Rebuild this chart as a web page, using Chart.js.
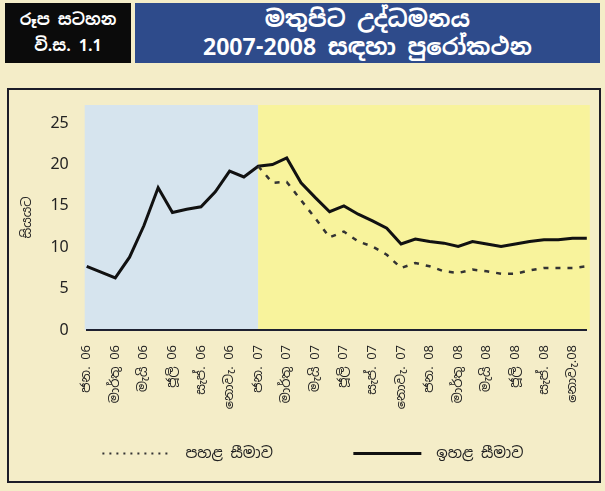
<!DOCTYPE html>
<html lang="si">
  <head>
    <meta charset="UTF-8" />
    <title>මතුපිට උද්ධමනය</title>
    <script src="https://cdn.jsdelivr.net/npm/chart.js"></script>
    <style>
      body {
        margin: 0;
        width: 605px;
        height: 491px;
        background: #f4edc8;
        position: relative;
        overflow: hidden;
        font-family: "Noto Sans Sinhala", "Noto Sans", sans-serif;
      }
      .tag,
      .heading {
        position: absolute;
        top: 3px;
        height: 60px;
        color: #fff;
        display: flex;
        flex-direction: column;
        justify-content: center;
        align-items: center;
        font-weight: bold;
      }
      .tag {
        left: 5px;
        width: 126px;
        background: #0b0b0b;
        font-size: 16px;
        line-height: 26px;
      }
      .heading {
        left: 135px;
        width: 465px;
        background: #2e4b8b;
        font-size: 23px;
        line-height: 28px;
      }
      .frame {
        position: absolute;
        left: 7px;
        top: 88px;
        width: 594px;
        height: 395px;
        border: 2px solid #1c1c28;
        box-sizing: border-box;
      }
      #chart {
        position: absolute;
        left: 9px;
        top: 90px;
      }
    </style>
  </head>
  <body>
    <div class="tag"><div>රූප සටහන</div><div>වි.ස. 1.1</div></div>
    <div class="heading"><div>මතුපිට උද්ධමනය</div><div>2007-2008 සඳහා පුරෝකථන</div></div>
    <div class="frame"></div>
    <canvas id="chart" width="590" height="391"></canvas>

    <script>
      // මාසික දත්ත (2006 ජන. - 2008 දෙසැ.)
      const months = [
        "2006-01", "2006-02", "2006-03", "2006-04", "2006-05", "2006-06",
        "2006-07", "2006-08", "2006-09", "2006-10", "2006-11", "2006-12",
        "2007-01", "2007-02", "2007-03", "2007-04", "2007-05", "2007-06",
        "2007-07", "2007-08", "2007-09", "2007-10", "2007-11", "2007-12",
        "2008-01", "2008-02", "2008-03", "2008-04", "2008-05", "2008-06",
        "2008-07", "2008-08", "2008-09", "2008-10", "2008-11", "2008-12",
      ];
      const tickLabels = [
        "ජන. 06", "මාර්තු 06", "මැයි 06", "ජූලි 06", "සැප්. 06", "නොවැ. 06",
        "ජන. 07", "මාර්තු 07", "මැයි 07", "ජූලි 07", "සැප්. 07", "නොවැ. 07",
        "ජන. 08", "මාර්තු 08", "මැයි 08", "ජූලි 08", "සැප්. 08", "නොවැ.08",
      ];
      const upperBound = [
        7.7, 7.0, 6.3, 8.8, 12.6, 17.2, 14.2, 14.6, 14.9, 16.7, 19.2, 18.5,
        19.8, 20.0, 20.8, 17.8, 16.0, 14.3, 15.0, 14.0, 13.2, 12.3, 10.4, 11.0,
        10.7, 10.5, 10.1, 10.7, 10.4, 10.1, 10.4, 10.7, 10.9, 10.9, 11.1, 11.1,
      ];
      const lowerBound = [
        null, null, null, null, null, null, null, null, null, null, null, null,
        19.8, 17.8, 17.9, 15.7, 13.5, 11.2, 11.9, 10.7, 10.1, 9.1, 7.5, 8.1,
        7.7, 7.1, 6.9, 7.3, 7.1, 6.8, 6.8, 7.2, 7.5, 7.5, 7.5, 7.7,
      ];
      const forecastStart = months.indexOf("2007-01");

      // පසුබිම් වර්ණ (සත්‍ය / පුරෝකථන)
      const bands = {
        id: "bands",
        beforeDraw(chart) {
          const { ctx, chartArea: a, scales } = chart;
          const split = scales.x.getPixelForValue(forecastStart);
          ctx.save();
          ctx.fillStyle = "#d6e4ee";
          ctx.fillRect(a.left - 2, a.top, split - a.left + 2, a.bottom - a.top);
          ctx.fillStyle = "#f8f39c";
          ctx.fillRect(split, a.top, a.right + 3 - split, a.bottom - a.top);
          ctx.restore();
        },
      };

      const legendShift = {
        id: "legendShift",
        afterLayout(chart) {
          chart.legend.left += 10;
          chart.legend.right += 10;
        },
      };

      const sinhala = "'Noto Sans Sinhala', 'Noto Sans', sans-serif";

      new Chart(document.getElementById("chart"), {
        type: "line",
        data: {
          labels: months,
          datasets: [
            {
              label: "පහළ සීමාව",
              data: lowerBound,
              borderColor: "#333",
              borderWidth: 2.5,
              borderDash: [5, 7],
              pointRadius: 0,
              fill: false,
            },
            {
              label: "ඉහළ සීමාව",
              data: upperBound,
              borderColor: "#111",
              borderWidth: 3,
              pointRadius: 0,
              fill: false,
            },
          ],
        },
        options: {
          responsive: false,
          animation: false,
          layout: { padding: { left: 10, right: 12.2, top: 15, bottom: 10 } },
          scales: {
            x: {
              offset: false,
              grid: { display: false, drawTicks: false },
              border: { display: true, color: "#1d2030", width: 2 },
              ticks: {
                autoSkip: false,
                minRotation: 90,
                maxRotation: 90,
                padding: 15,
                color: "#222",
                font: { family: sinhala, size: 13 },
                callback: (v, i) => (i % 2 === 0 ? tickLabels[i / 2] : ""),
              },
              afterFit: (s) => {
                s.height = 106;
                s.paddingLeft = 0;
                s.paddingRight = 0;
              },
            },
            y: {
              min: 0,
              max: 27.2,
              grid: { display: false, drawTicks: false },
              border: { display: false },
              ticks: {
                stepSize: 5,
                includeBounds: false,
                padding: 18,
                color: "#222",
                font: { family: "'Noto Sans', sans-serif", size: 16 },
              },
              title: {
                display: true,
                text: "සියයට",
                color: "#222",
                font: { family: sinhala, size: 13 },
                padding: { top: 1, bottom: 4 },
              },
              afterFit: (s) => {
                s.width = 67.7;
                s.paddingTop = 0;
                s.paddingBottom = 0;
              },
            },
          },
          plugins: {
            tooltip: { enabled: false },
            legend: {
              position: "bottom",
              labels: {
                usePointStyle: true,
                pointStyle: "line",
                pointStyleWidth: 68,
                padding: 10,
                color: "#222",
                font: { family: sinhala, size: 15 },
                generateLabels: (chart) => {
                  const items = Chart.defaults.plugins.legend.labels.generateLabels(chart);
                  items[0].text = "\u2002" + items[0].text + "\u2003\u2003\u2003\u2003\u2002\u2009";
                  items[0].lineDash = [2, 5];
                  items[0].lineWidth = 2;
                  items[0].strokeStyle = "#333";
                  items[1].text = "\u2002" + items[1].text;
                  items[1].lineWidth = 3;
                  items[1].strokeStyle = "#111";
                  return items;
                },
              },
            },
          },
        },
        plugins: [bands, legendShift],
      });
    </script>
  </body>
</html>
